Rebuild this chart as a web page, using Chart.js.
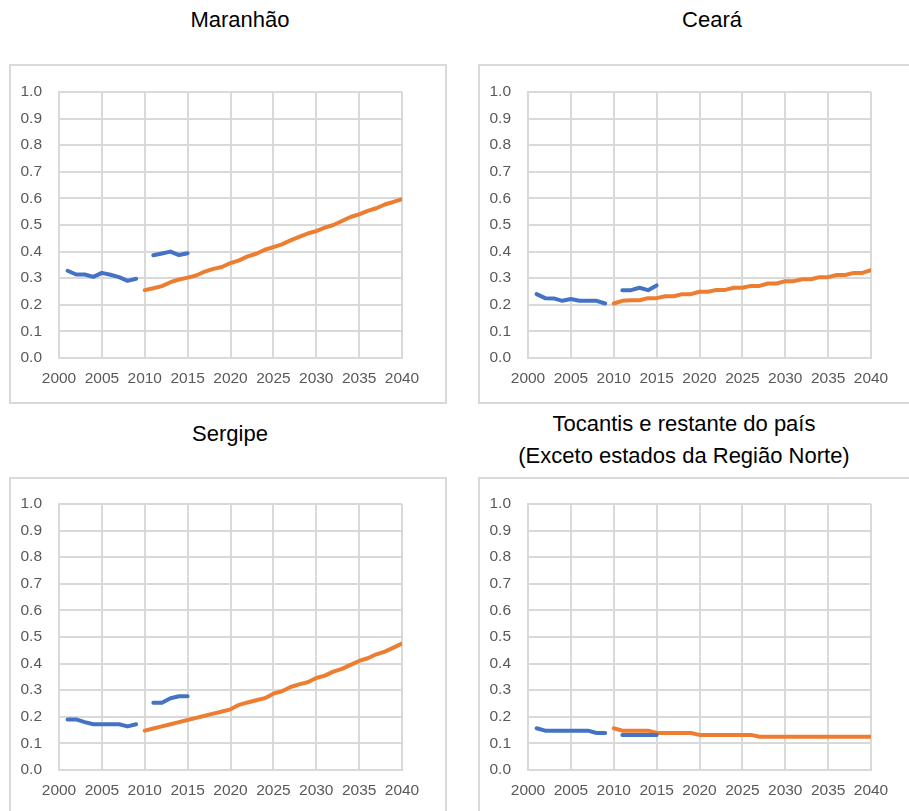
<!DOCTYPE html>
<html>
<head>
<meta charset="utf-8">
<script src="https://cdn.jsdelivr.net/npm/chart.js@4"></script>
<style>
  body { margin: 0; width: 909px; height: 811px; background: #fff; position: relative; overflow: hidden; font-family: "Liberation Sans", Arial, sans-serif; }
  .box { position: absolute; border: 2px solid #d9d9d9; box-sizing: border-box; }
  .title { position: absolute; width: 400px; text-align: center; font-size: 22px; line-height: 22px; color: #000; }
  canvas { position: absolute; }
</style>
</head>
<body>

<div class="title" style="left:40px; top:9px;">Maranhão</div>
<div class="title" style="left:512px; top:9px;">Ceará</div>
<div class="title" style="left:30px; top:423px;">Sergipe</div>
<div class="title" style="left:484px; top:408px; line-height:31.5px;">Tocantis e restante do país<br>(Exceto estados da Região Norte)</div>

<div class="box" style="left:9px; top:64px; width:438px; height:340px;"></div>
<div class="box" style="left:478px; top:64px; width:440px; height:340px;"></div>
<div class="box" style="left:9px; top:477px; width:438px; height:350px;"></div>
<div class="box" style="left:478px; top:477px; width:440px; height:350px;"></div>

<canvas id="c1" width="438" height="340" style="left:9px; top:64px;"></canvas>
<canvas id="c2" width="431" height="340" style="left:478px; top:64px;"></canvas>
<canvas id="c3" width="438" height="334" style="left:9px; top:477px;"></canvas>
<canvas id="c4" width="431" height="334" style="left:478px; top:477px;"></canvas>

<script>
// Years
const obsYears = [2001, 2002, 2003, 2004, 2005, 2006, 2007, 2008, 2009, 2010, 2011, 2012, 2013, 2014, 2015];
const projYears = [];
for (let y = 2010; y <= 2040; y++) projYears.push(y);

const xTicks = [2000, 2005, 2010, 2015, 2020, 2025, 2030, 2035, 2040];
const yTicks = [0, 0.1, 0.2, 0.3, 0.4, 0.5, 0.6, 0.7, 0.8, 0.9, 1.0];

// Maranhão
const maranhaoObs = [0.328, 0.314, 0.314, 0.305, 0.320, 0.313, 0.304, 0.290, 0.298, null, 0.386, 0.393, 0.400, 0.387, 0.394];
const maranhaoProj = [0.255, 0.262, 0.270, 0.285, 0.295, 0.302, 0.310, 0.325, 0.335, 0.342,
  0.357, 0.367, 0.382, 0.392, 0.407, 0.417, 0.427, 0.442, 0.455, 0.468,
  0.477, 0.490, 0.500, 0.515, 0.530, 0.540, 0.553, 0.563, 0.577, 0.587, 0.597];

// Ceará
const cearaObs = [0.240, 0.225, 0.224, 0.215, 0.222, 0.215, 0.215, 0.215, 0.205, null, 0.255, 0.255, 0.264, 0.255, 0.273];
const cearaProj = [0.205, 0.215, 0.217, 0.217, 0.225, 0.225, 0.232, 0.232, 0.240, 0.240,
  0.249, 0.249, 0.256, 0.256, 0.264, 0.264, 0.271, 0.271, 0.280, 0.280,
  0.289, 0.289, 0.296, 0.296, 0.304, 0.304, 0.312, 0.312, 0.320, 0.320, 0.330];

// Sergipe
const sergipeObs = [0.190, 0.190, 0.180, 0.172, 0.172, 0.172, 0.172, 0.164, 0.172, null, 0.253, 0.253, 0.270, 0.277, 0.277];
const sergipeProj = [0.148, 0.156, 0.164, 0.172, 0.180, 0.188, 0.196, 0.204, 0.212, 0.220,
  0.228, 0.245, 0.254, 0.262, 0.270, 0.287, 0.296, 0.312, 0.322, 0.330,
  0.346, 0.355, 0.370, 0.380, 0.395, 0.410, 0.420, 0.435, 0.445, 0.460, 0.475];

// Tocantis e restante do país
const tocantisObs = [0.157, 0.148, 0.148, 0.148, 0.148, 0.148, 0.148, 0.139, 0.139, null, 0.132, 0.132, 0.132, 0.132, 0.132];
const tocantisProj = [0.157, 0.148, 0.148, 0.148, 0.148, 0.139, 0.139, 0.139, 0.139, 0.139,
  0.132, 0.132, 0.132, 0.132, 0.132, 0.132, 0.132, 0.125, 0.125, 0.125,
  0.125, 0.125, 0.125, 0.125, 0.125, 0.125, 0.125, 0.125, 0.125, 0.125, 0.125];

const toPoints = (xs, ys) => xs.map((x, i) => ({ x: x, y: ys[i] }));

function makeChart(id, obs, proj, pad) {
    const ctx = document.getElementById(id).getContext("2d");
    return new Chart(ctx, {
        type: "line",
        data: {
            datasets: [
                {
                    data: toPoints(obsYears, obs),
                    borderColor: "#4472C4",
                    borderWidth: 4,
                    pointRadius: 0,
                    spanGaps: false,
                    borderCapStyle: "round",
                    borderJoinStyle: "round",
                },
                {
                    data: toPoints(projYears, proj),
                    borderColor: "#ED7D31",
                    borderWidth: 4,
                    pointRadius: 0,
                    borderCapStyle: "round",
                    borderJoinStyle: "round",
                },
            ],
        },
        options: {
            responsive: false,
            animation: false,
            layout: {
                autoPadding: false,
                padding: { left: 0, top: pad.top, right: pad.right, bottom: pad.bottom },
            },
            plugins: {
                legend: { display: false },
                tooltip: { enabled: false },
            },
            scales: {
                x: {
                    type: "linear",
                    min: 2000,
                    max: 2040,
                    afterBuildTicks: (s) => { s.ticks = xTicks.map(v => ({ value: v })); },
                    afterFit: (s) => { s.height = 30; },
                    ticks: {
                        color: "#595959",
                        font: { family: "Liberation Sans", size: 15.5 },
                        padding: 11,
                        maxRotation: 0,
                        callback: (v) => String(v),
                    },
                    grid: { color: "#d9d9d9", lineWidth: 2, drawTicks: false },
                    border: { color: "#d9d9d9", width: 2 },
                },
                y: {
                    min: 0,
                    max: 1,
                    afterBuildTicks: (s) => { s.ticks = yTicks.map(v => ({ value: v })); },
                    afterFit: (s) => { s.width = 50; },
                    ticks: {
                        color: "#595959",
                        font: { family: "Liberation Sans", size: 15.5 },
                        padding: 17,
                        callback: (v) => v.toFixed(1),
                    },
                    grid: { color: "#d9d9d9", lineWidth: 2, drawTicks: false },
                    border: { color: "#d9d9d9", width: 2 },
                },
            },
        },
    });
}

makeChart("c1", maranhaoObs, maranhaoProj, { top: 28, right: 45, bottom: 16 });
makeChart("c2", cearaObs, cearaProj, { top: 28, right: 38, bottom: 16 });
makeChart("c3", sergipeObs, sergipeProj, { top: 27, right: 45, bottom: 11 });
makeChart("c4", tocantisObs, tocantisProj, { top: 27, right: 38, bottom: 11 });
</script>
</body>
</html>
